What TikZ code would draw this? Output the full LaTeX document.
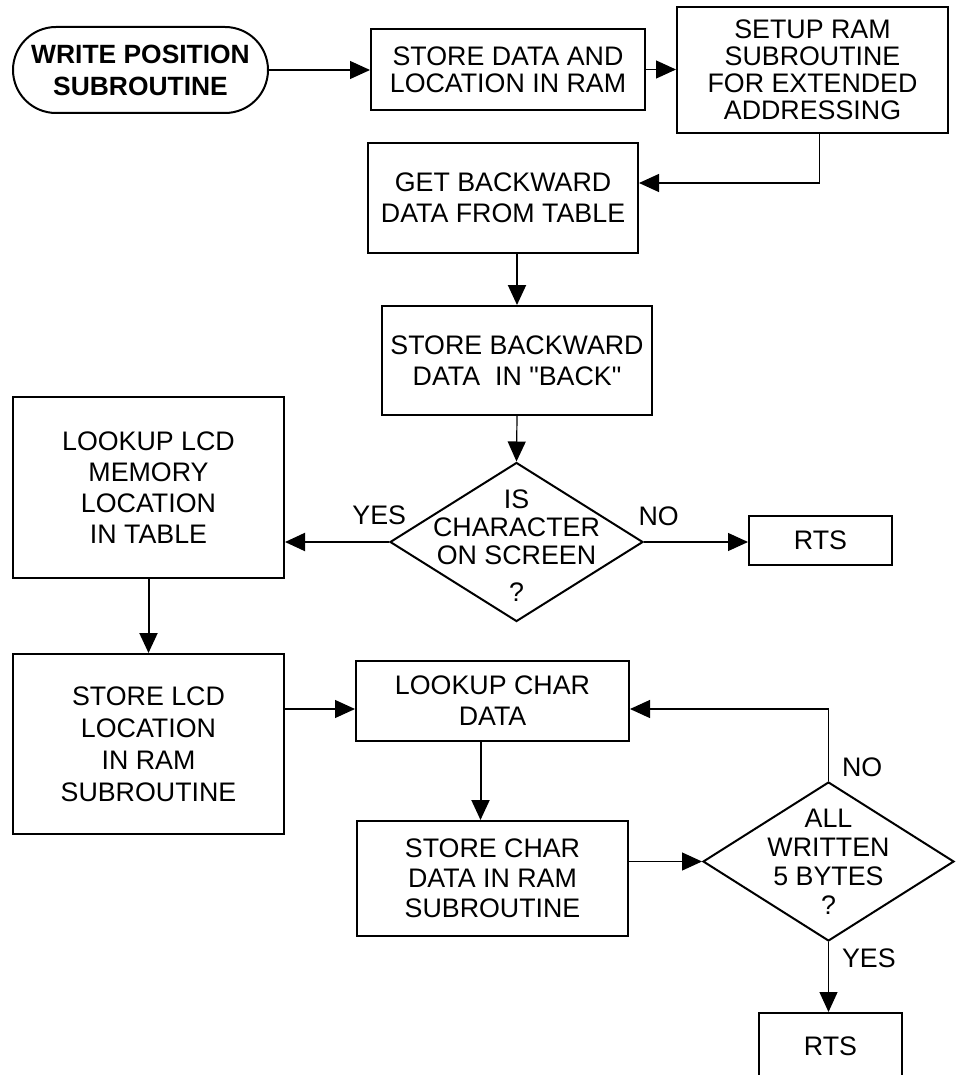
\documentclass[tikz,border=0pt]{standalone}
\usepackage{fontspec}
\setmainfont{Liberation Sans}[Ligatures=TeXOff]
\usetikzlibrary{arrows.meta,shapes.geometric}

\begin{document}
\begin{tikzpicture}[x=0.5pt, y=-0.5pt, >={Triangle[length=10pt,width=9pt]},
        font=\fontsize{13.4}{15.5}\selectfont]
        \tikzstyle{box}=[draw, line width=1pt, align=center, inner sep=0pt]
        \tikzstyle{dia}=[draw, diamond, line width=1pt, inner sep=0pt]
        \tikzstyle{lab}=[inner sep=0pt, align=center]
        \tikzstyle{ln}=[->, line width=0.6pt]
        \tikzstyle{lnb}=[->, line width=1pt]
        \useasboundingbox (0,0) rectangle (955,1075);

        % Nodes
        \node[box, rounded corners=21.5pt, minimum width=127.5pt, minimum height=43pt,
            font=\fontsize{13.2}{16}\selectfont\bfseries] (start) at (140.5,70) {WRITE POSITION\\SUBROUTINE};
        \node[box, minimum width=137pt, minimum height=40.5pt,
            font=\fontsize{13.4}{13.5}\selectfont] (store) at (508,69.5) {STORE DATA AND\\LOCATION IN RAM};
        \node[box, minimum width=135.5pt, minimum height=63pt,
            font=\fontsize{13.4}{13.5}\selectfont] (setup) at (812.5,70) {SETUP RAM\\SUBROUTINE\\FOR EXTENDED\\ADDRESSING};
        \node[box, minimum width=135pt, minimum height=55pt] (getback) at (503,198) {GET BACKWARD\\DATA FROM TABLE};
        \node[box, minimum width=135pt, minimum height=54.5pt] (storeback) at (517,360.5) {STORE BACKWARD\\DATA\ \ IN "BACK"};
        \node[dia, minimum width=126.5pt, minimum height=79.5pt] (d1) at (516.5,542) {};
        \node[lab, font=\fontsize{13.4}{14}\selectfont] (d1t) at (516.5,546) {IS\\CHARACTER\\ON SCREEN\\[4.5pt]?};
        \node[box, minimum width=71.5pt, minimum height=24.5pt] (rts1) at (820.5,540.5) {RTS};
        \node[box, minimum width=135.5pt, minimum height=90.5pt] (lcdlook) at (148.5,487.5) {LOOKUP LCD\\MEMORY\\LOCATION\\IN TABLE};
        \node[box, minimum width=135.5pt, minimum height=90pt, font=\fontsize{13.4}{16}\selectfont] (lcdstore) at (148.5,744) {STORE LCD\\LOCATION\\IN RAM\\SUBROUTINE};
        \node[box, minimum width=136.5pt, minimum height=40pt] (charlook) at (492.5,701) {LOOKUP CHAR\\DATA};
        \node[box, minimum width=135.5pt, minimum height=57.5pt, font=\fontsize{13.4}{15}\selectfont] (charstore) at (492.5,878.5) {STORE CHAR\\DATA IN RAM\\SUBROUTINE};
        \node[dia, minimum width=125.5pt, minimum height=79.5pt] (d2) at (828.5,861.5) {};
        \node[lab, font=\fontsize{13.4}{14.5}\selectfont] (d2t) at (828.5,861.5) {ALL\\WRITTEN\\5 BYTES\\?};
        \node[box, minimum width=71.5pt, minimum height=33.5pt] (rts2) at (830.5,1046.5) {RTS};

        % Connectors
        \draw[ln] (start.east) -- (start.east -| store.west);
        \draw[ln] (store.east) -- (store.east -| setup.west);
        \draw[ln] ([xshift=3.5pt]setup.south) |- ([yshift=7.5pt]getback.east);
        \draw[lnb] (storeback.north |- getback.south) -- (storeback.north);
        \draw[ln] (storeback.south) -- (d1.north);

        % Decision 1
        \draw[ln] (d1.east) -- (d1.east -| rts1.west)
            node[lab, pos=0, anchor=south west, xshift=-3pt, yshift=8pt] {NO};
        \draw[lnb] (d1.west) -- (d1.west -| lcdlook.east)
            node[lab, pos=0, anchor=south east, xshift=9pt, yshift=8pt] {YES};
        \draw[lnb] (lcdlook.south) -- (lcdstore.north);

        % Character loop
        \coordinate (clin) at ([yshift=-4pt]charlook.west);
        \coordinate (clout) at ([yshift=-4pt]charlook.east);
        \draw[ln] (lcdstore.east |- clin) -- (clin);
        \draw[lnb] ([xshift=-6pt]charlook.south) -- ([xshift=-6pt]charlook.south |- charstore.north);
        \draw[ln] (charstore.east |- d2.west) -- (d2.west);
        \draw[ln] (d2.north) |- (clout)
            node[lab, pos=0, anchor=south west, xshift=6.5pt, yshift=2pt] {NO};
        \draw[ln] (d2.south) -- (d2.south |- rts2.north)
            node[lab, pos=0, anchor=north west, xshift=6.5pt, yshift=-3pt] {YES};
\end{tikzpicture}
\end{document}
